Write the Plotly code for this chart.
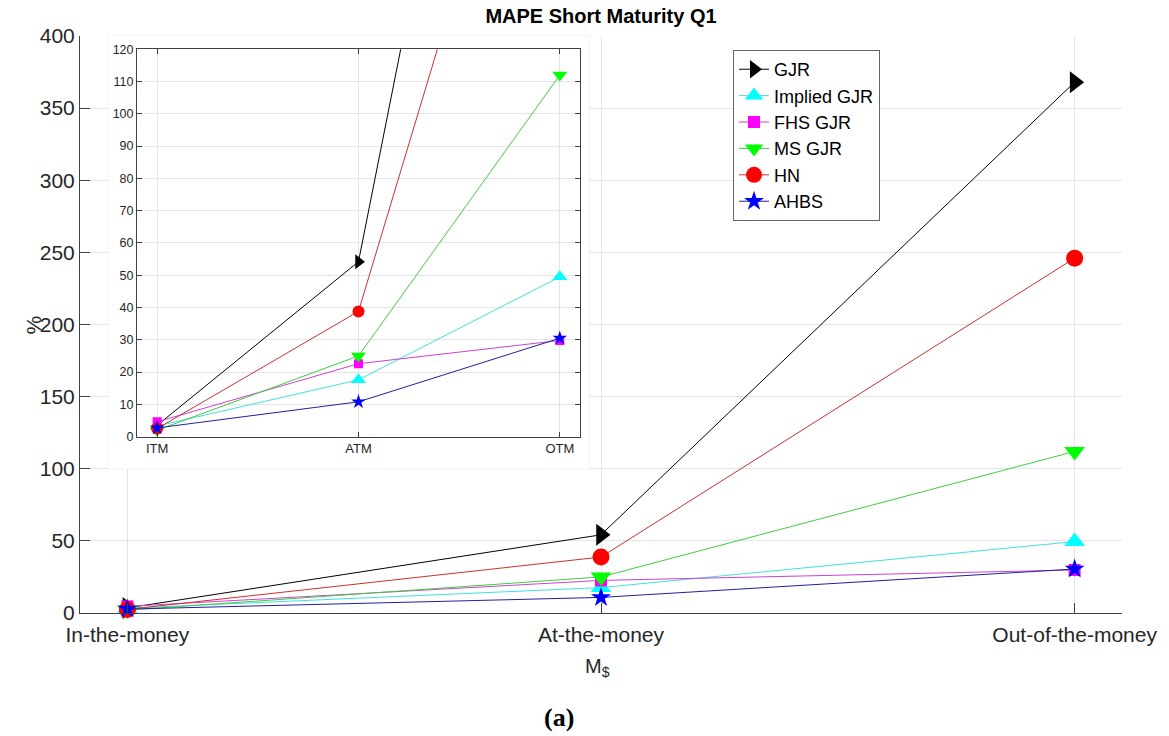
import plotly.graph_objects as go

categories = ["In-the-money", "At-the-money", "Out-of-the-money"]
inset_labels = ["ITM", "ATM", "OTM"]
y_ticks = [0, 50, 100, 150, 200, 250, 300, 350, 400]
inset_ticks = [0, 10, 20, 30, 40, 50, 60, 70, 80, 90, 100, 110, 120]

series_names = ["GJR", "Implied GJR", "FHS GJR", "MS GJR", "HN", "AHBS"]
gjr = [3.5, 54.2, 368.0]
implied_gjr = [3.3, 17.6, 49.5]
fhs_gjr = [4.6, 22.6, 29.8]
ms_gjr = [2.0, 25.0, 112.0]
hn = [2.5, 38.8, 246.0]
ahbs = [2.7, 10.8, 30.5]
series_values = [gjr, implied_gjr, fhs_gjr, ms_gjr, hn, ahbs]

marker_symbols = ["triangle-right", "triangle-up", "square", "triangle-down", "circle", "star"]
marker_colors = ["#000000", "#00ffff", "#ff00ff", "#00ff00", "#ff0000", "#0000ff"]
line_colors = ["#000000", "#40e0e0", "#d040d0", "#40cc40", "#cc3030", "#2020a0"]
main_sizes = [19, 18, 12, 18, 17, 15]
inset_sizes = [13, 13, 9, 13, 12, 11]

FONT = "Liberation Sans, Arial, sans-serif"
AX = "#404040"
GRID = "#e4e4e4"

fig = go.Figure()

for name, vals, sym, mc, lc, ms in zip(series_names, series_values, marker_symbols,
                                       marker_colors, line_colors, main_sizes):
    fig.add_trace(go.Scatter(
        x=categories, y=vals, name=name, mode="lines+markers",
        line=dict(color=lc, width=1),
        marker=dict(symbol=sym, color=mc, size=ms, line=dict(width=0)),
        xaxis="x", yaxis="y", cliponaxis=False,
    ))

# empty white panel (own subplot) that hides the main grid behind the inset
fig.add_trace(go.Scatter(x=[None], y=[None], xaxis="x2", yaxis="y2",
                         showlegend=False, hoverinfo="skip"))

for name, vals, sym, mc, lc, ms in zip(series_names, series_values, marker_symbols,
                                       marker_colors, line_colors, inset_sizes):
    fig.add_trace(go.Scatter(
        x=inset_labels, y=vals, name=name, mode="lines+markers", showlegend=False,
        line=dict(color=lc, width=1),
        marker=dict(symbol=sym, color=mc, size=ms, line=dict(width=0)),
        xaxis="x3", yaxis="y3",
    ))

hidden = dict(visible=False, showgrid=False, zeroline=False, showline=False,
              showticklabels=False, ticks="", fixedrange=True)

fig.update_layout(
    width=1169, height=736,
    margin=dict(l=80, r=47, t=36, b=123),
    paper_bgcolor="white", plot_bgcolor="white",
    font=dict(family=FONT, color="#262626"),
    title=dict(text="<b>MAPE Short Maturity Q1</b>", x=0.5, xref="paper",
               y=1 - 16 / 736, yref="container", yanchor="middle",
               font=dict(size=20, color="#000000", family=FONT)),
    xaxis=dict(type="category", categoryarray=categories, range=[-0.1, 2.1],
               showline=True, linecolor=AX, linewidth=1, mirror=False,
               ticks="inside", ticklen=10, tickcolor=AX,
               showgrid=True, gridcolor=GRID, zeroline=False,
               ticklabelstandoff=3,
               tickfont=dict(size=21, color="#262626")),
    yaxis=dict(range=[0, 400], tickvals=y_ticks,
               showline=True, linecolor=AX, linewidth=1, mirror=False,
               ticks="inside", ticklen=10, tickcolor=AX,
               showgrid=True, gridcolor=GRID, zeroline=False,
               tickfont=dict(size=21, color="#262626")),
    xaxis2=dict(domain=[0.027, 0.489], anchor="y2", range=[0, 1], **hidden),
    yaxis2=dict(domain=[0.25, 1.0], anchor="x2", range=[0, 1], **hidden),
    xaxis3=dict(type="category", categoryarray=inset_labels, range=[-0.1, 2.1],
                domain=[0.0547, 0.4798], anchor="y3",
                showline=True, linecolor=AX, linewidth=1, mirror="ticks",
                ticks="inside", ticklen=5, tickcolor=AX,
                showgrid=True, gridcolor=GRID, zeroline=False,
                tickfont=dict(size=13, color="#262626")),
    yaxis3=dict(range=[0, 120], tickvals=inset_ticks,
                domain=[0.3056, 0.977], anchor="x3",
                showline=True, linecolor=AX, linewidth=1, mirror="ticks",
                ticks="inside", ticklen=5, tickcolor=AX,
                showgrid=True, gridcolor=GRID, zeroline=False,
                tickfont=dict(size=12.5, color="#262626")),
    legend=dict(x=0.6267, y=0.9757, xanchor="left", yanchor="top",
                bgcolor="white", bordercolor="#666666", borderwidth=1,
                font=dict(size=18, color="#000000", family=FONT),
                tracegroupgap=0, itemwidth=30),
    showlegend=True,
)

# faint outline of the inset panel
fig.add_shape(type="rect", xref="paper", yref="paper",
              x0=0.027, x1=0.489, y0=0.25, y1=1.0,
              line=dict(color="#e6e6e6", width=1), fillcolor="rgba(0,0,0,0)",
              layer="below")

fig.add_annotation(text="%", xref="paper", yref="paper", x=-0.0576, y=0.499,
                   textangle=-90, showarrow=False,
                   font=dict(size=21, color="#262626", family=FONT))
fig.add_annotation(text="M<sub>$</sub>", xref="paper", yref="paper", x=0.4962,
                   y=(613 - 667) / 577, yanchor="middle", showarrow=False,
                   font=dict(size=20, color="#262626", family=FONT))
fig.add_annotation(text="<b>(a)</b>", xref="paper", yref="paper", x=(559 - 80) / 1042,
                   y=(613 - 717) / 577, yanchor="middle", showarrow=False,
                   font=dict(size=26, color="#000000",
                             family="Liberation Serif, DejaVu Serif, serif"))

fig.write_html("out.html", config={"displayModeBar": False},
               post_script="document.body.style.margin='0';")
